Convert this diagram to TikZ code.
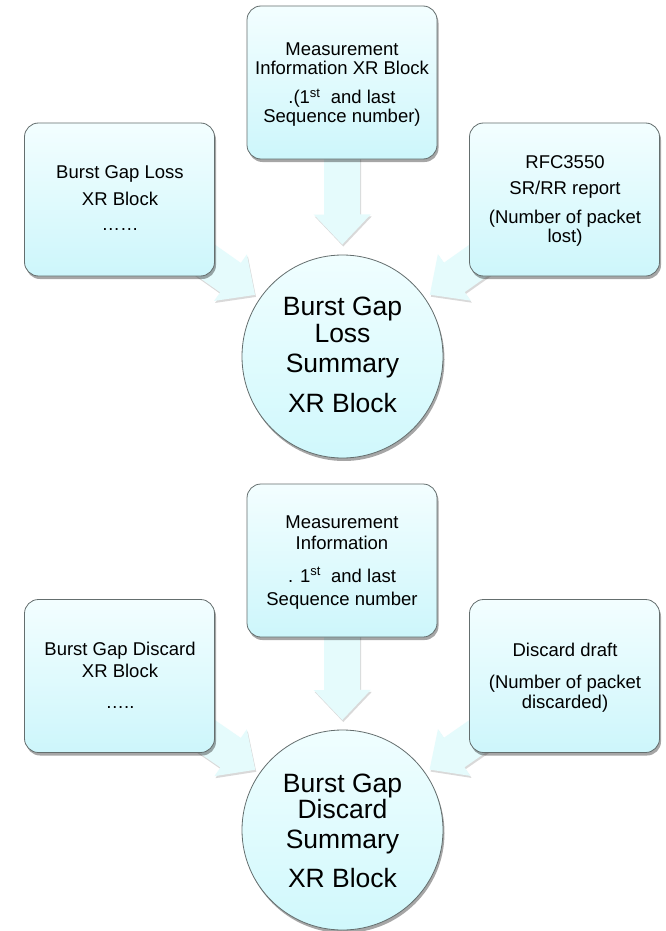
\documentclass[tikz,border=0pt]{standalone}
\usepackage{fontspec}
\setmainfont{Liberation Sans}
\usetikzlibrary{calc,shapes.geometric,shadows}
\pgfdeclarelayer{bg}
\pgfdeclarelayer{back}
\pgfsetlayers{bg,back,main}
\definecolor{boxtop}{RGB}{243,254,255}
\definecolor{boxbot}{RGB}{205,246,251}
\definecolor{circtop}{RGB}{240,254,255}
\definecolor{circbot}{RGB}{208,248,252}
\definecolor{edgec}{RGB}{100,110,110}
\definecolor{arrowc}{RGB}{229,251,252}
\newcommand\boxfont{\fontsize{18.5}{20}\selectfont}
\newcommand\circfont{\fontsize{26.5}{28}\selectfont}
\newcommand\fatarrow[2]{%
  \path ($(#2)!30pt!(#1)$) coordinate (hb);
  \fill[fatstyle] ($(#1)!18pt!90:(#2)$) -- ($(hb)!18pt!90:(#2)$) -- ($(hb)!28.5pt!90:(#2)$) -- (#2)
    -- ($(hb)!28.5pt!-90:(#2)$) -- ($(hb)!18pt!-90:(#2)$) -- ($(#1)!18pt!-90:(#2)$) -- cycle;
}
\begin{document}
\begin{tikzpicture}[x=1pt,y=-1pt,
  infobox/.style={draw=edgec, line width=0.8pt, rounded corners=14pt, top color=boxtop, bottom color=boxbot,
    minimum width=190pt, minimum height=153pt, inner sep=0pt,
    drop shadow={shadow xshift=1.5pt, shadow yshift=-3pt, opacity=0.35, fill=black}},
  summary/.style={ellipse, draw=edgec, line width=0.8pt, top color=circtop, bottom color=circbot,
    minimum width=201pt, minimum height=203pt, inner sep=0pt,
    drop shadow={shadow xshift=1.5pt, shadow yshift=-3pt, opacity=0.35, fill=black}},
  btxt/.style={anchor=base, inner sep=0pt, font=\boxfont},
  ctxt/.style={anchor=base, inner sep=0pt, font=\circfont},
  fatstyle/.style={fill=arrowc, drop shadow={shadow xshift=1pt, shadow yshift=-2pt, opacity=0.15, fill=black}}]
\useasboundingbox (0,0) rectangle (665,931);
\begin{pgfonlayer}{bg}
\fill[white] (0,0) rectangle (665,931);
\end{pgfonlayer}

% ---------- upper diagram ----------
\node[infobox] (mb1) at (342,82.5) {};
\node[infobox] (lb1) at (119.5,199.5) {};
\node[infobox] (rb1) at (564.5,199.5) {};
\node[summary] (c1) at (342.5,356.5) {};

\node[btxt] (mb1a) at (342,56) {Measurement};
\node[btxt] (mb1b) at (342,75) {Information XR Block};
\node[btxt] (mb1c) at (342,104) {.(1\textsuperscript{st}\ \ and last};
\node[btxt] (mb1d) at (342,123) {Sequence number)};

\node[btxt] (lb1a) at (120,178) {Burst Gap Loss};
\node[btxt] (lb1b) at (120,205) {XR Block};
\node[btxt] (lb1c) at (120,230) {……};

\node[btxt] (rb1a) at (565,168) {RFC3550};
\node[btxt] (rb1b) at (565,194) {SR/RR report};
\node[btxt] (rb1c) at (565,223) {(Number of packet};
\node[btxt] (rb1d) at (565,242) {lost)};

\node[ctxt] (c1a) at (342.5,315) {Burst Gap};
\node[ctxt] (c1b) at (342.5,342) {Loss};
\node[ctxt] (c1c) at (342.5,372) {Summary};
\node[ctxt] (c1d) at (342.5,412) {XR Block};

% ---------- lower diagram ----------
\node[infobox] (mb2) at (342,560.5) {};
\node[infobox] (lb2) at (119.5,676) {};
\node[infobox] (rb2) at (564.5,676) {};
\node[summary, minimum height=200pt] (c2) at (342.5,830) {};

\node[btxt] (mb2a) at (342,528) {Measurement};
\node[btxt] (mb2b) at (342,549) {Information};
\node[btxt] (mb2c) at (342,582) {. 1\textsuperscript{st}\ \ and last};
\node[btxt] (mb2d) at (342,605) {Sequence number};

\node[btxt] (lb2a) at (120,655) {Burst Gap Discard};
\node[btxt] (lb2b) at (120,677) {XR Block};
\node[btxt] (lb2c) at (120,708) {…..};

\node[btxt] (rb2a) at (565,656) {Discard draft};
\node[btxt] (rb2b) at (565,688) {(Number of packet};
\node[btxt] (rb2c) at (565,708) {discarded)};

\node[ctxt] (c2a) at (342.5,792) {Burst Gap};
\node[ctxt] (c2b) at (342.5,818) {Discard};
\node[ctxt] (c2c) at (342.5,848) {Summary};
\node[ctxt] (c2d) at (342.5,887) {XR Block};

% ---------- fat arrows (behind the boxes) ----------
\begin{pgfonlayer}{back}
\coordinate (t1m) at ($(c1.center)!112pt!(mb1.center)$);
\coordinate (t1l) at ($(c1.center)!107pt!(lb1.center)$);
\coordinate (t1r) at ($(c1.center)!107pt!(rb1.center)$);
\fatarrow{mb1.center}{t1m}
\fatarrow{lb1.center}{t1l}
\fatarrow{rb1.center}{t1r}
\coordinate (t2m) at ($(c2.center)!110pt!(mb2.center)$);
\coordinate (t2l) at ($(c2.center)!106pt!(lb2.center)$);
\coordinate (t2r) at ($(c2.center)!106pt!(rb2.center)$);
\fatarrow{mb2.center}{t2m}
\fatarrow{lb2.center}{t2l}
\fatarrow{rb2.center}{t2r}
\end{pgfonlayer}
\end{tikzpicture}
\end{document}
